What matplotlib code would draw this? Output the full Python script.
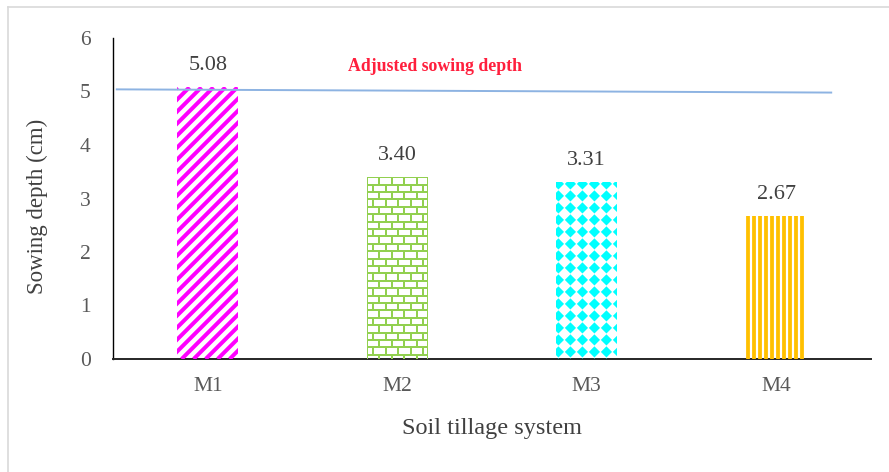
import numpy as np
import matplotlib
matplotlib.use("Agg")
import matplotlib.pyplot as plt
from matplotlib.collections import LineCollection, PolyCollection
from matplotlib.lines import Line2D

# Data
systems = ["M1", "M2", "M3", "M4"]
sowing_depth = [5.08, 3.40, 3.31, 2.67]
depth_labels = ["5.08", "3.40", "3.31", "2.67"]
y_ticks = [0, 1, 2, 3, 4, 5, 6]
adjusted_x = [-0.48, 3.29]
adjusted_depth = [5.04, 4.98]

plt.rcParams["font.family"] = ["Liberation Serif", "DejaVu Serif"]

W, H = 889, 472
fig = plt.figure(figsize=(W / 100, H / 100), dpi=100)
fig.patch.set_facecolor("white")

# light frame around the chart area
fig.add_artist(Line2D([8 / W, 8 / W], [0, 1 - 7 / H], color="#D9D9D9", lw=1.2))
fig.add_artist(Line2D([8 / W, 1], [1 - 7 / H, 1 - 7 / H], color="#D9D9D9", lw=1.2))

ax = fig.add_axes([113 / W, (H - 359) / H, 758 / W, (359 - 38) / H])
ax.set_xlim(-0.5, 3.5)
ax.set_ylim(0, 6)

for s in ["top", "right"]:
    ax.spines[s].set_visible(False)
ax.spines["left"].set_color("#000000")
ax.spines["left"].set_linewidth(1.0)
ax.spines["bottom"].set_color("#262626")
ax.spines["bottom"].set_linewidth(1.4)

ax.set_yticks(y_ticks)
ax.set_yticklabels([str(t) for t in y_ticks])
ax.set_xticks(range(len(systems)))
ax.set_xticklabels(systems)
ax.tick_params(axis="both", length=0, labelsize=15.5, colors="#595959")
ax.tick_params(axis="y", pad=16)
ax.tick_params(axis="x", pad=13)

ax.set_ylabel("Sowing depth (cm)", fontsize=16.5, color="#404040")
ax.yaxis.set_label_coords(-0.086, 0.474)
ax.set_xlabel("Soil tillage system", fontsize=17.5, color="#404040", labelpad=16)

x = np.arange(len(systems))
bar_w = 0.32
bars = ax.bar(x, sowing_depth, width=bar_w, color="white", edgecolor="none", zorder=2)

# pixel -> data scale
sx = 1.0 / (758 / 4.0)
sy = 6.0 / (359 - 38)
pt = 72.0 / 100.0


def bar_box(b):
    x0 = b.get_x()
    return x0, x0 + b.get_width(), 0.0, b.get_height()


def diagonal(b, color):
    x0, x1, y0, y1 = bar_box(b)
    wpx = (x1 - x0) / sx
    hpx = (y1 - y0) / sy
    period = 12.0
    segs = []
    for k in np.arange(-hpx, wpx + period, period):
        segs.append([(x0 + k * sx, y0), (x0 + (k + hpx) * sx, y1)])
    lc = LineCollection(segs, colors=color, linewidths=4.0 * pt, zorder=3)
    ax.add_collection(lc)
    lc.set_clip_path(b)


def bricks(b, color):
    x0, x1, y0, y1 = bar_box(b)
    wpx = (x1 - x0) / sx
    hpx = (y1 - y0) / sy
    row = 7.4
    bw = 12.5
    segs = []
    nrows = int(np.ceil(hpx / row))
    for r in range(nrows + 1):
        yy = y1 - r * row * sy
        segs.append([(x0, yy), (x1, yy)])
        if r < nrows:
            off = 0 if r % 2 == 0 else bw / 2
            for k in np.arange(off, wpx + bw, bw):
                xx = x0 + k * sx
                segs.append([(xx, yy), (xx, yy - row * sy)])
    segs.append([(x0, y0), (x0, y1)])
    segs.append([(x1, y0), (x1, y1)])
    lc = LineCollection(segs, colors=color, linewidths=2.0 * pt, zorder=3)
    ax.add_collection(lc)
    lc.set_clip_path(b)


def diamonds(b, color):
    x0, x1, y0, y1 = bar_box(b)
    wpx = (x1 - x0) / sx
    hpx = (y1 - y0) / sy
    period = 12.0
    r = 5.6
    polys = []
    for i in np.arange(2.0, wpx + period, period):
        for j in np.arange(hpx - 2.0, -period, -period):
            cx = x0 + i * sx
            cy = y0 + j * sy
            polys.append([(cx - r * sx, cy), (cx, cy + r * sy),
                          (cx + r * sx, cy), (cx, cy - r * sy)])
    pc = PolyCollection(polys, facecolors=color, edgecolors="none", zorder=3)
    ax.add_collection(pc)
    pc.set_clip_path(b)


def vertical(b, color):
    x0, x1, y0, y1 = bar_box(b)
    wpx = (x1 - x0) / sx
    period = 6.0
    segs = []
    for k in np.arange(2.5, wpx, period):
        xx = x0 + k * sx
        segs.append([(xx, y0), (xx, y1)])
    lc = LineCollection(segs, colors=color, linewidths=3.8 * pt, zorder=3)
    ax.add_collection(lc)
    lc.set_clip_path(b)


diagonal(bars[0], "#FF00FF")
bricks(bars[1], "#92D050")
diamonds(bars[2], "#00FFFF")
vertical(bars[3], "#FFC000")

# value labels
for xi, v, lab in zip(x, sowing_depth, depth_labels):
    ax.annotate(lab, (xi, v), xytext=(0, 12), textcoords="offset pixels",
                ha="center", va="bottom", fontsize=16, color="#404040")

# adjusted sowing depth reference line
ax.plot(adjusted_x, adjusted_depth, color="#8DB3E2", lw=1.4, zorder=4)
ax.text(1.2, 5.47, "Adjusted sowing depth", color="#FF1F3D", fontsize=12.8,
        fontweight="bold", ha="center", va="center")

fig.savefig("out.png", dpi=100, facecolor="white")
